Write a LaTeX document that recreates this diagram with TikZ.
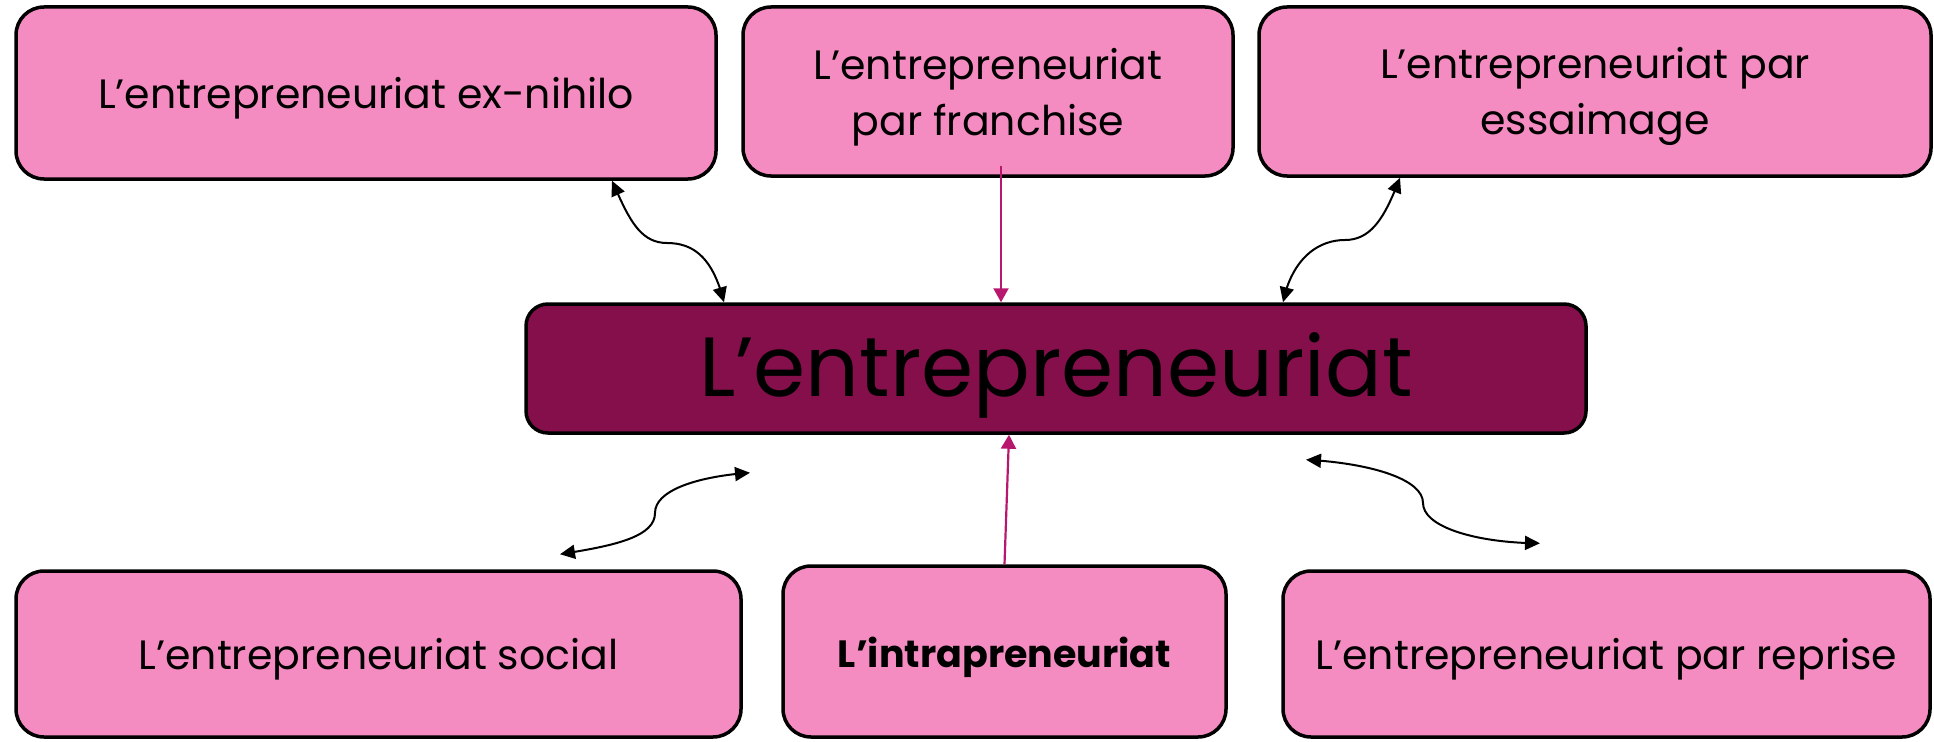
\documentclass[tikz,border=0pt]{standalone}
\usepackage{fontspec}
\setmainfont{Poppins}
\usetikzlibrary{arrows.meta,bending}
\definecolor{rose}{HTML}{F48CC2}
\definecolor{plum}{HTML}{850F4B}
\definecolor{berry}{HTML}{B8176E}
\tikzset{
  box/.style={draw=black, line width=3.5pt, rounded corners=28pt, fill=rose,
    align=center, inner sep=0pt, font=\fontsize{41}{56}\selectfont,
    text height=42pt},
  twoline/.style={text height=98pt},
  core/.style={box, fill=plum, rounded corners=22pt, font=\fontsize{84}{100}\selectfont,
    text height=77pt},
  link/.style={draw=black, line width=2pt,
    {Triangle[length=15pt,width=14pt]}-{Triangle[length=15pt,width=14pt]}},
  feed/.style={draw=berry, line width=2.2pt, -{Triangle[length=14pt,width=15pt]}},
}

\begin{document}
\begin{tikzpicture}[x=1pt, y=-1pt]
  \useasboundingbox (0,0) rectangle (1934,741);
  % top row
  \node[box, minimum width=700pt, minimum height=172pt] (nihilo) at (366,93) {L’entrepreneuriat ex-nihilo};
  \node[box, twoline, minimum width=490pt, minimum height=169pt] (franchise) at (988,91.5) {L’entrepreneuriat\\par franchise};
  \node[box, twoline, minimum width=672pt, minimum height=169pt] (essaim) at (1595,91.5) {L’entrepreneuriat par\\essaimage};
  % centre
  \node[core, minimum width=1060pt, minimum height=129pt] (core) at (1056,368.5) {L’entrepreneuriat};
  % bottom row
  \node[box, minimum width=725pt, minimum height=166pt] (social) at (378.5,654) {L’entrepreneuriat social};
  \node[box, minimum width=443pt, minimum height=171pt, font=\fontsize{38}{56}\selectfont\bfseries] (intra) at (1004.5,651.5) {L’intrapreneuriat};
  \node[box, minimum width=647pt, minimum height=166pt] (reprise) at (1606.5,654) {L’entrepreneuriat par reprise};

  \coordinate (m1) at (667,243);
  \coordinate (m3) at (1345,240);
  \coordinate (m4) at (655,513);
  \coordinate (m5) at (1423,503);
  \coordinate (s4) at ([xshift=181.5pt,yshift=15pt]social.north);
  \coordinate (c4) at ([xshift=-306pt,yshift=-38pt]core.south);
  \coordinate (c5) at ([xshift=250pt,yshift=-25pt]core.south);
  \coordinate (r5) at ([xshift=-66.5pt,yshift=26pt]reprise.north);

  \draw[link] ([xshift=246pt]nihilo.south) .. controls +(16,36) and +(-28,0) .. (m1)
    .. controls +(30,0) and +(-10,-40) .. ([xshift=-332pt]core.north);
  \draw[link] ([xshift=-195pt]essaim.south) .. controls +(-14,36) and +(28,0) .. (m3)
    .. controls +(-30,0) and +(8,-40) .. ([xshift=227pt]core.north);
  \draw[link] (s4) .. controls +(50,-8) and +(0,25) .. (m4)
    .. controls +(0,-25) and +(-45,3) .. (c4);
  \draw[link] (c5) .. controls +(60,3) and +(0,-25) .. (m5)
    .. controls +(0,25) and +(-60,0) .. (r5);

  \draw[feed] ([xshift=13pt,yshift=12pt]franchise.south) -- ([xshift=-55pt]core.north);
  \draw[feed] (intra.north) -- ([xshift=-47pt]core.south);
\end{tikzpicture}
\end{document}
